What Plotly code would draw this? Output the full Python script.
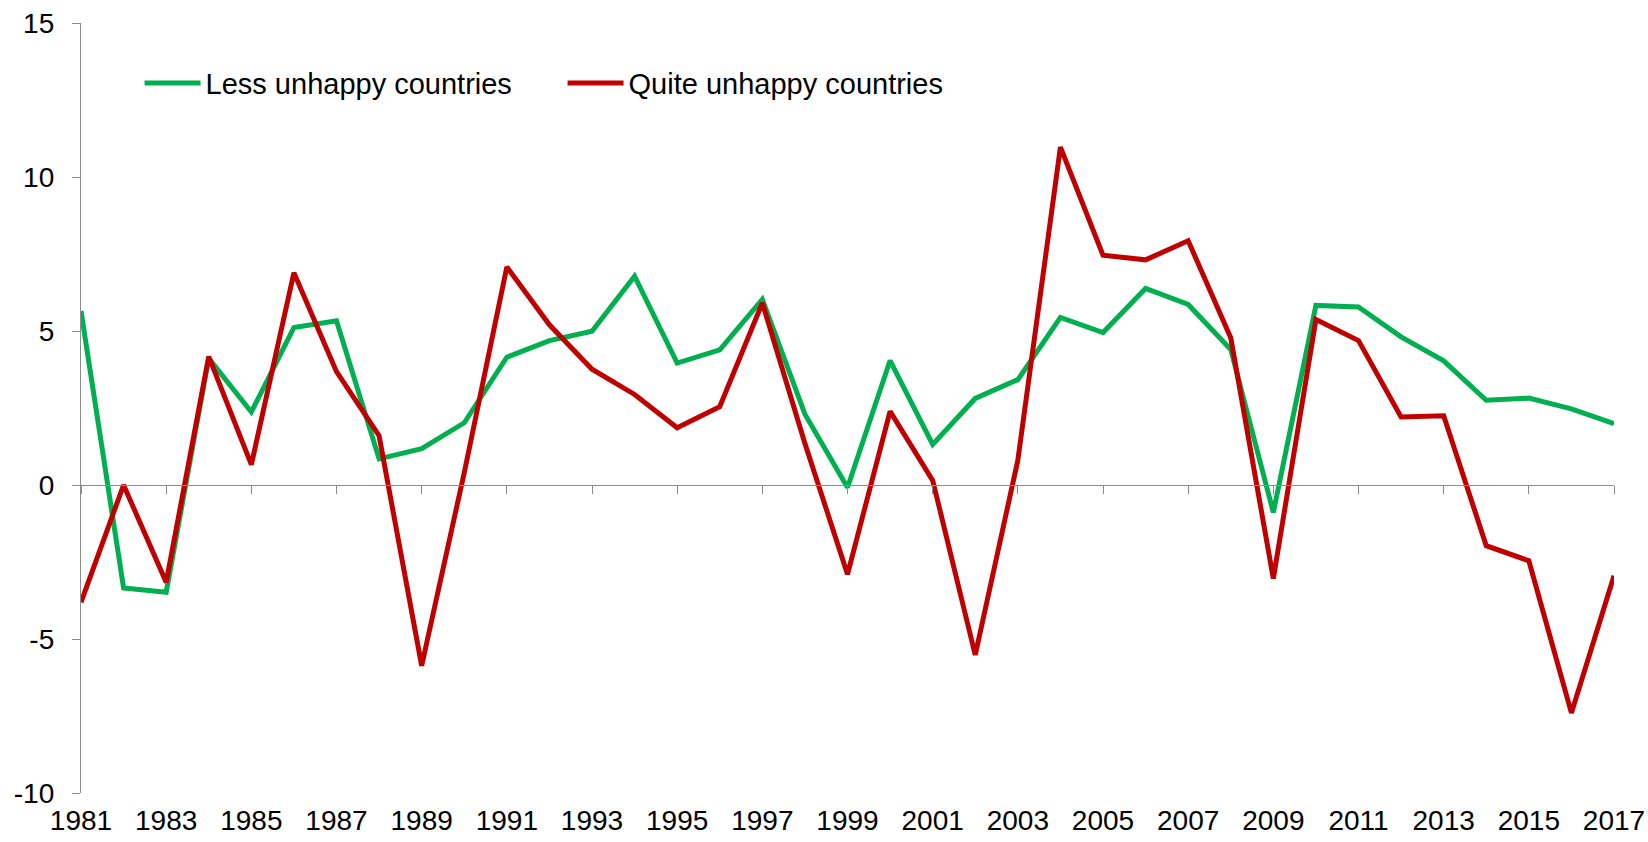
import plotly.graph_objects as go

years = list(range(1981, 2018))
less_unhappy = [5.65, -3.34, -3.48, 4.11, 2.37, 5.11, 5.33, 0.85, 1.18, 2.02,
                4.15, 4.69, 4.99, 6.78, 3.96, 4.39, 6.03, 2.30, -0.08, 4.04,
                1.32, 2.81, 3.42, 5.44, 4.95, 6.38, 5.86, 4.40, -0.89, 5.83,
                5.78, 4.81, 4.03, 2.75, 2.82, 2.47, 1.99]
quite_unhappy = [-3.81, 0.0, -3.16, 4.17, 0.66, 6.89, 3.68, 1.60, -5.87, 0.40,
                 7.08, 5.20, 3.76, 2.94, 1.86, 2.54, 5.91, 1.35, -2.90, 2.39,
                 0.15, -5.52, 0.80, 10.97, 7.46, 7.31, 7.93, 4.78, -3.04, 5.37,
                 4.69, 2.21, 2.25, -1.97, -2.46, -7.40, -2.95]
series_names = ["Less unhappy countries", "Quite unhappy countries"]
series_colors = ["#00B050", "#C00000"]
y_tickvals = [-10, -5, 0, 5, 10, 15]
y_ticktext = ["-10", "-5", "0", "5", "10", "15"]
x_tickvals = list(range(1981, 2018, 2))
x_ticktext = [str(v) for v in x_tickvals]

FONT = "Arial, Liberation Sans, sans-serif"
AXIS_COLOR = "#8C8C8C"

fig = go.Figure()
for name, vals, col in zip(series_names, [less_unhappy, quite_unhappy], series_colors):
    fig.add_trace(go.Scatter(x=years, y=vals, mode="lines", name=name,
                             line=dict(color=col, width=5), hoverinfo="skip"))

# invisible carrier trace so the zero-level category axis (x2) is rendered
fig.add_trace(go.Scatter(x=years, y=less_unhappy, xaxis="x2", mode="lines",
                         line=dict(width=0), opacity=0, showlegend=False,
                         hoverinfo="skip"))

fig.update_layout(
    width=1648, height=842,
    margin=dict(l=81, r=34, t=23, b=49, autoexpand=False),
    paper_bgcolor="white", plot_bgcolor="white",
    font=dict(family=FONT, size=28, color="black"),
    showlegend=True,
    legend=dict(orientation="h", x=0.0382, y=0.955, xanchor="left", yanchor="top",
                font=dict(size=29, color="black"), itemwidth=56,
                entrywidth=352, entrywidthmode="pixels",
                bgcolor="rgba(0,0,0,0)"),
    xaxis=dict(range=[1981, 2017], tickvals=x_tickvals, ticktext=x_ticktext,
               showgrid=False, zeroline=False, showline=False, ticks="",
               tickfont=dict(size=28), ticklabelstandoff=8,
               ticklabeloverflow="allow", automargin=False),
    xaxis2=dict(range=[1981, 2017], overlaying="x", anchor="free", position=0.4,
                side="bottom", tickvals=x_tickvals, showticklabels=False,
                showline=True, linecolor=AXIS_COLOR, linewidth=1.3,
                ticks="outside", ticklen=8, tickwidth=1.3, tickcolor=AXIS_COLOR,
                showgrid=False, zeroline=False, automargin=False),
    yaxis=dict(range=[-10, 15], tickvals=y_tickvals, ticktext=y_ticktext,
               showgrid=False, zeroline=False, showline=True,
               linecolor=AXIS_COLOR, linewidth=1.3, ticks="outside", ticklen=8,
               tickwidth=1.3, tickcolor=AXIS_COLOR, tickfont=dict(size=28),
               ticklabelstandoff=12, ticklabeloverflow="allow", automargin=False),
)

fig.write_html(
    "out.html",
    config={"displayModeBar": False},
    post_script="document.body.style.margin='0';"
                "document.documentElement.style.overflow='hidden';",
)
